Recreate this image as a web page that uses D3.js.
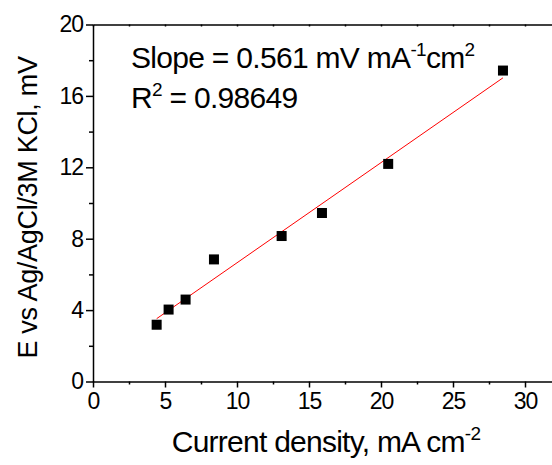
<!DOCTYPE html>
<html>
<head>
<meta charset="utf-8">
<script src="https://cdn.jsdelivr.net/npm/d3@7"></script>
<style>
  body { margin: 0; background: #fff; }
  text { font-family: "Liberation Sans", Arial, sans-serif; fill: #000; }
</style>
</head>
<body>
<main></main>
<script>
// Data
const currentDensity = [4.42, 5.25, 6.43, 8.4, 13.1, 15.9, 20.5, 28.47];
const potential = [3.18, 4.03, 4.59, 6.84, 8.15, 9.44, 12.19, 17.42];
const fitSlope = 0.561;
const fitIntercept = 1.04;
const xTicks = [0, 5, 10, 15, 20, 25, 30];
const xMinor = [2.5, 7.5, 12.5, 17.5, 22.5, 27.5];
const yTicks = [0, 4, 8, 12, 16, 20];
const yMinor = [2, 6, 10, 14, 18];

// Dimensions
const width = 552;
const height = 465;
const margin = { top: 24.5, left: 93, bottom: 381.5 };

const svg = d3.select("main")
  .append("svg")
  .attr("width", width)
  .attr("height", height);

// Scales
const xScale = d3.scaleLinear()
  .domain([0, 32])
  .range([margin.left, margin.left + 32 * 14.4]);

const yScale = d3.scaleLinear()
  .domain([0, 20])
  .range([margin.bottom, margin.top]);

// Axes
const axisStyle = g => {
  g.selectAll("path, line").attr("stroke", "#000").attr("stroke-width", 1.5);
  g.selectAll("text")
    .style("font-family", '"Liberation Sans", Arial, sans-serif')
    .style("font-size", "23px")
    .style("letter-spacing", "-1px")
    .attr("fill", "#000");
};

svg.append("g")
  .attr("transform", `translate(0,${margin.bottom})`)
  .call(d3.axisBottom(xScale).tickValues(xTicks).tickSize(6).tickSizeOuter(0).tickPadding(5))
  .call(axisStyle);

svg.append("g")
  .attr("transform", `translate(0,${margin.bottom})`)
  .call(d3.axisBottom(xScale).tickValues(xMinor).tickSize(3).tickFormat(""))
  .call(axisStyle)
  .select(".domain").remove();

svg.append("g")
  .attr("transform", `translate(${margin.left},0)`)
  .call(d3.axisLeft(yScale).tickValues(yTicks).tickSize(7).tickSizeOuter(0).tickPadding(3))
  .call(axisStyle);

svg.append("g")
  .attr("transform", `translate(${margin.left},0)`)
  .call(d3.axisLeft(yScale).tickValues(yMinor).tickSize(4).tickFormat(""))
  .call(axisStyle)
  .select(".domain").remove();

// top frame with small inward ticks
svg.append("g")
  .attr("transform", `translate(0,${margin.top})`)
  .call(d3.axisTop(xScale).tickValues(xTicks.concat(xMinor)).tickSize(-2).tickSizeOuter(0).tickFormat(""))
  .call(axisStyle);

// Fit line
const xFit = d3.extent(currentDensity);
svg.append("line")
  .attr("x1", xScale(xFit[0]))
  .attr("y1", yScale(fitIntercept + fitSlope * xFit[0]))
  .attr("x2", xScale(xFit[1]))
  .attr("y2", yScale(fitIntercept + fitSlope * xFit[1]))
  .attr("stroke", "#ff0000")
  .attr("stroke-width", 1);

// Points
svg.selectAll(".pt")
  .data(currentDensity)
  .enter()
  .append("rect")
  .attr("class", "pt")
  .attr("x", d => xScale(d) - 5)
  .attr("y", (d, i) => yScale(potential[i]) - 5)
  .attr("width", 10)
  .attr("height", 10)
  .attr("fill", "#000");

// Annotation
const note1 = svg.append("text")
  .attr("x", 131)
  .attr("y", 68)
  .style("font-size", "30px")
  .style("letter-spacing", "-0.7px");
note1.append("tspan").text("Slope = 0.561 mV mA");
note1.append("tspan").attr("dy", -12).style("font-size", "19px").text("-1");
note1.append("tspan").attr("dy", 12).text("cm");
note1.append("tspan").attr("dy", -12).style("font-size", "19px").text("2");

const note2 = svg.append("text")
  .attr("x", 131)
  .attr("y", 108)
  .style("font-size", "30px")
  .style("letter-spacing", "-0.7px");
note2.append("tspan").text("R");
note2.append("tspan").attr("dy", -12).style("font-size", "19px").text("2");
note2.append("tspan").attr("dy", 12).text(" = 0.98649");

// Axis labels
const xTitle = svg.append("text")
  .attr("x", 326)
  .attr("y", 452)
  .attr("text-anchor", "middle")
  .style("font-size", "30px")
  .style("letter-spacing", "-0.75px");
xTitle.append("tspan").text("Current density, mA cm");
xTitle.append("tspan").attr("dy", -12).style("font-size", "19px").text("-2");

svg.append("text")
  .attr("transform", "rotate(-90)")
  .attr("x", -207.5)
  .attr("y", 37)
  .attr("text-anchor", "middle")
  .style("font-size", "27px")
  .style("letter-spacing", "-0.3px")
  .text("E vs Ag/AgCl/3M KCl, mV");
</script>
</body>
</html>
